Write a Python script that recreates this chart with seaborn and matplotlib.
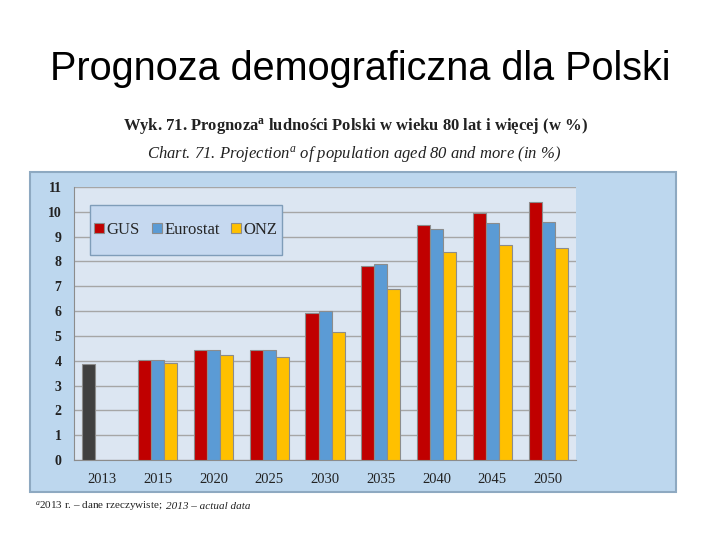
import matplotlib
matplotlib.use('Agg')
import matplotlib.pyplot as plt
import seaborn as sns
import pandas as pd
import numpy as np
from matplotlib.patches import Rectangle

# dane (w %)
years = ['2013', '2015', '2020', '2025', '2030', '2035', '2040', '2045', '2050']
gus = [3.85, 4.05, 4.45, 4.45, 5.93, 7.82, 9.45, 9.95, 10.4]
eurostat = [np.nan, 4.05, 4.42, 4.45, 6.0, 7.9, 9.32, 9.53, 9.57]
onz = [np.nan, 3.9, 4.22, 4.17, 5.17, 6.88, 8.4, 8.67, 8.55]
series = ['GUS', 'Eurostat', 'ONZ']
colors = ['#C00000', '#5B9BD5', '#FFC000']

df = pd.DataFrame({'rok': years * 3,
                   'zrodlo': ['GUS'] * 9 + ['Eurostat'] * 9 + ['ONZ'] * 9,
                   'wartosc': gus + eurostat + onz})

sns.set_style('white')
plt.rcParams['font.family'] = ['Liberation Serif', 'DejaVu Serif']
plt.rcParams['mathtext.fontset'] = 'custom'
plt.rcParams['mathtext.rm'] = 'Liberation Serif'
plt.rcParams['mathtext.it'] = 'Liberation Serif:italic'
plt.rcParams['mathtext.bf'] = 'Liberation Serif:bold'

fig = plt.figure(figsize=(7.2, 5.4), dpi=100)
fig.patch.set_facecolor('white')

# tytul slajdu
fig.text(0.5, 0.872, 'Prognoza demograficzna dla Polski', ha='center', va='center',
         fontsize=28.5, family=['Liberation Sans', 'DejaVu Sans'], color='black')

# tytuly wykresu
fig.text(0.493, 0.766, 'Wyk. 71. Prognoza$^{\\mathbf{a}}$ ludności Polski w wieku 80 lat i więcej (w %)',
         ha='center', va='center', fontsize=12, fontweight='bold', color='#222222')
fig.text(0.492, 0.714, 'Chart. 71. Projection$^{\\mathit{a}}$ of population aged 80 and more (in %)',
         ha='center', va='center', fontsize=12, style='italic', color='#222222')

# tlo calego wykresu
fig.patches.append(Rectangle((0.0417, 0.0889), 0.8972, 0.5926, transform=fig.transFigure,
                             facecolor='#BDD7EE', edgecolor='#8EA9C1', linewidth=1.5, zorder=-1))

ax = fig.add_axes([0.1028, 0.1481, 0.6972, 0.5056])
ax.set_facecolor('#DCE6F2')

sns.barplot(data=df, x='rok', y='wartosc', hue='zrodlo', hue_order=series,
            palette=colors, saturation=1, width=0.7, edgecolor='#8C8C8C', linewidth=0.8,
            ax=ax, zorder=3)

# 2013 - dane rzeczywiste (ciemny slupek)
ax.containers[0].patches[0].set_facecolor('#404040')

ax.set_ylim(0, 11)
ax.set_yticks(range(0, 12))
ax.set_xlim(-0.5, len(years) - 0.5)
ax.grid(axis='y', color='#A6A6A6', linewidth=1, zorder=0)
ax.set_axisbelow(True)
for s in ['top', 'right']:
    ax.spines[s].set_visible(False)
ax.spines['left'].set_color('#8C8C8C')
ax.spines['bottom'].set_color('#8C8C8C')
ax.set_xlabel('')
ax.set_ylabel('')
ax.tick_params(axis='x', length=0, labelsize=10.5, pad=9, colors='#222222')
ax.tick_params(axis='y', length=4, direction='out', color='#8C8C8C', labelsize=10,
               colors='#222222', pad=5)
for lab in ax.get_yticklabels():
    lab.set_fontweight('bold')
ax.set_xticks(np.arange(-0.5, len(years), 1), minor=True)
ax.tick_params(axis='x', which='minor', length=4, color='#8C8C8C')

# legenda w ramce
ax.add_patch(Rectangle((0.032, 0.751), 0.382, 0.183, transform=ax.transAxes,
                       facecolor='#C6D9F0', edgecolor='#7F9DB9', linewidth=1, zorder=4))
leg = ax.legend(loc='center', bbox_to_anchor=(0.032, 0.751, 0.382, 0.183), ncol=3,
                frameon=False, fontsize=12, handlelength=0.6, handleheight=0.6,
                handletextpad=0.15, columnspacing=0.7)
leg.set_zorder(5)

# przypis
t1 = fig.text(0.048, 0.058, '$^{a}$2013 r. – dane rzeczywiste;', fontsize=8,
              va='baseline', color='#222222')
fig.canvas.draw()
bb = t1.get_window_extent().transformed(fig.transFigure.inverted())
fig.text(bb.x1 + 0.006, 0.058, '2013 – actual data', fontsize=8, va='baseline',
         style='italic', color='#222222')

fig.savefig('out.png', dpi=100)
